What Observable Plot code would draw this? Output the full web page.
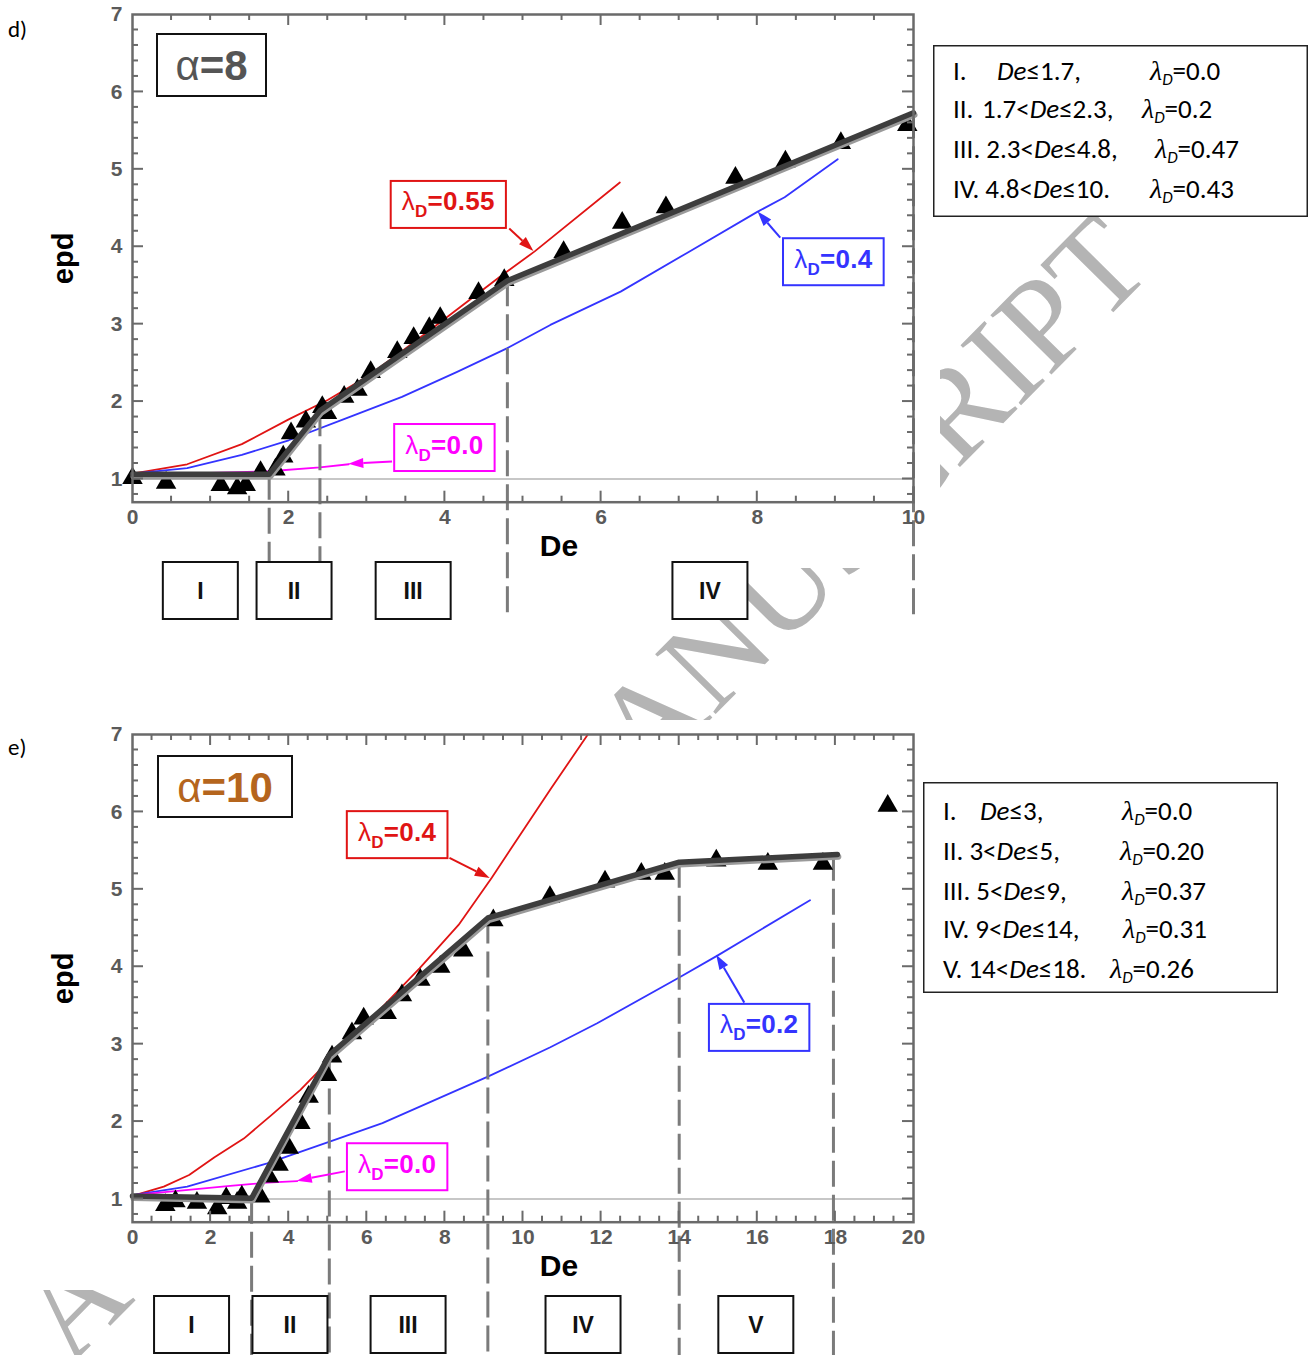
<!DOCTYPE html>
<html lang="en">
<head>
<meta charset="utf-8">
<title>epd versus De, α=8 and α=10</title>
<script src="https://cdn.jsdelivr.net/npm/d3@7"></script>
<script src="https://cdn.jsdelivr.net/npm/@observablehq/plot@0.6"></script>
<style>
  html, body { margin: 0; padding: 0; background: #fff; }
  #page { position: relative; width: 1316px; height: 1355px; overflow: hidden; background: #fff; }
  #page > * { position: absolute; }
</style>
</head>
<body>
<div id="page"></div>
<script>
// ================= DATA: panel d (alpha = 8) =================
const d_expDe   = [0.00, 0.43, 1.13, 1.34, 1.45, 1.64, 1.83, 1.93, 2.03, 2.22, 2.43, 2.49, 2.71, 2.88, 3.05, 3.39, 3.60, 3.80, 3.94, 4.43, 4.76, 5.52, 6.27, 6.83, 7.72, 8.36, 9.07, 9.92];
const d_expEpd  = [1.01, 0.95, 0.92, 0.88, 0.92, 1.09, 1.12, 1.29, 1.59, 1.74, 1.93, 1.85, 2.06, 2.15, 2.38, 2.64, 2.82, 2.95, 3.08, 3.40, 3.57, 3.93, 4.31, 4.51, 4.89, 5.10, 5.34, 5.57];
const d_fitDe   = [0, 1.75, 2.4, 4.8, 10];
const d_fitEpd  = [1.06, 1.06, 1.88, 3.56, 5.73];
const d_redDe   = [0, 0.7, 1.4, 2.0, 2.5, 3.0, 3.45, 4.0, 4.7, 5.15, 6.24];
const d_redEpd  = [1.07, 1.19, 1.45, 1.77, 2.02, 2.32, 2.65, 3.07, 3.61, 3.94, 4.83];
const d_blueDe  = [0, 0.7, 1.4, 2.0, 2.75, 3.45, 4.15, 4.8, 5.35, 6.25, 7.1, 8.0, 8.35, 9.03];
const d_blueEpd = [1.07, 1.14, 1.31, 1.50, 1.79, 2.06, 2.38, 2.69, 2.99, 3.42, 3.92, 4.45, 4.64, 5.13];
const d_magDe   = [0, 1.0, 1.75, 2.4, 2.77];
const d_magEpd  = [1.07, 1.08, 1.10, 1.15, 1.19];
const d_breakDe  = [1.75, 2.4, 4.8, 10];
const d_breakEpd = [1.06, 1.88, 3.56, 5.73];
const d_regions  = ["I", "II", "III", "IV"];
const d_xTicks   = [0, 2, 4, 6, 8, 10];
const d_notes = [
  {value: "0.55", color: "red",  bx: 4.05, by: 4.54, fx: 4.83, fy: 4.23, tx: 5.14, ty: 3.94},
  {value: "0.4",  color: "blue", bx: 8.98, by: 3.80, fx: 8.30, fy: 4.11, tx: 8.01, ty: 4.45},
  {value: "0.0",  color: "mag",  bx: 4.00, by: 1.40, fx: 3.33, fy: 1.22, tx: 2.77, ty: 1.19}
];
const d_legNum  = ["I.", "II.", "III.", "IV."];
const d_legCond = ["De≤1.7,", "1.7<De≤2.3,", "2.3<De≤4.8,", "4.8<De≤10."];
const d_legLam  = ["0.0", "0.2", "0.47", "0.43"];

// ================= DATA: panel e (alpha = 10) =================
const e_expDe   = [0.84, 1.10, 1.65, 2.17, 2.40, 2.68, 2.80, 3.27, 3.49, 3.74, 4.00, 4.30, 4.51, 4.98, 5.11, 5.62, 5.92, 6.51, 6.90, 7.37, 7.88, 8.47, 9.24, 10.69, 12.10, 13.03, 13.63, 14.95, 16.27, 17.68, 19.34];
const e_expEpd  = [0.92, 0.97, 0.95, 0.88, 1.01, 0.95, 1.03, 1.03, 1.29, 1.44, 1.66, 1.98, 2.32, 2.60, 2.84, 3.14, 3.33, 3.40, 3.63, 3.83, 4.00, 4.21, 4.60, 4.90, 5.10, 5.20, 5.20, 5.37, 5.33, 5.33, 6.08];
const e_fitDe   = [0, 3.05, 5.04, 9.1, 14, 18.05];
const e_fitEpd  = [1.04, 1.01, 2.86, 4.63, 5.35, 5.45];
const e_redDe   = [0, 0.8, 1.45, 2.1, 2.85, 3.55, 4.3, 5.0, 6.0, 7.35, 8.35, 9.2, 10.7, 11.66];
const e_redEpd  = [1.04, 1.16, 1.31, 1.54, 1.78, 2.08, 2.41, 2.77, 3.27, 3.98, 4.54, 5.15, 6.29, 7.0];
const e_blueDe  = [0, 1.4, 3.45, 5.05, 6.4, 9.1, 10.7, 11.9, 14.0, 15.0, 17.35];
const e_blueEpd = [1.05, 1.16, 1.46, 1.74, 1.98, 2.58, 2.96, 3.27, 3.86, 4.15, 4.86];
const e_magDe   = [0, 1.5, 2.5, 3.45, 4.22];
const e_magEpd  = [1.05, 1.12, 1.17, 1.21, 1.23];
const e_breakDe  = [3.05, 5.04, 9.1, 14, 17.95];
const e_breakEpd = [1.01, 2.86, 4.63, 5.35, 5.44];
const e_regions  = ["I", "II", "III", "IV", "V"];
const e_xTicks   = [0, 2, 4, 6, 8, 10, 12, 14, 16, 18, 20];
const e_notes = [
  {value: "0.4", color: "red",  bx: 6.79,  by: 5.70, fx: 8.13,  fy: 5.40, tx: 9.16,  ty: 5.14},
  {value: "0.2", color: "blue", bx: 16.06, by: 3.21, fx: 15.68, fy: 3.53, tx: 14.96, ty: 4.15},
  {value: "0.0", color: "mag",  bx: 6.79,  by: 1.41, fx: 5.45,  fy: 1.35, tx: 4.22,  ty: 1.23}
];
const e_legNum  = ["I.", "II.", "III.", "IV.", "V."];
const e_legCond = ["De≤3,", "3<De≤5,", "5<De≤9,", "9<De≤14,", "14<De≤18."];
const e_legLam  = ["0.0", "0.20", "0.37", "0.31", "0.26"];

const yTicks = [1, 2, 3, 4, 5, 6, 7];

// ================= STYLE =================
const COLORS = {red: "#e01414", blue: "#3434ff", mag: "#ff00ff"};
const FONT = "Arial, 'Liberation Sans', sans-serif";
const LEGFONT = "Carlito, Lato, 'Open Sans', sans-serif";
const page = document.getElementById("page");
const pts = (xs, ys) => xs.map((x, i) => ({x, y: ys[i]}));

// watermark (behind everything)
const wm = d3.select(page).append("svg").attr("width", 1316).attr("height", 1355)
  .style("left", "0px").style("top", "0px").style("z-index", 0);
wm.append("text")
  .attr("transform", "translate(1155,270) rotate(-45.3)")
  .attr("text-anchor", "end")
  .attr("font-family", "'Liberation Serif', 'Times New Roman', serif")
  .attr("font-size", 130).attr("fill", "#b4b4b4")
  .text("ACCEPTED MANUSCRIPT");

function drawNote(g, sx, sy, n) {
  const col = COLORS[n.color];
  const gg = g.append("g");
  const cx = sx(n.bx), cy = sy(n.by);
  const rect = gg.append("rect");
  const t = gg.append("text").attr("x", cx).attr("y", cy + 6).attr("text-anchor", "middle")
    .attr("font-family", FONT).attr("font-size", 26).attr("font-weight", "bold")
    .attr("fill", col).attr("letter-spacing", 0.3);
  t.append("tspan").attr("font-weight", "normal").text("λ");
  t.append("tspan").attr("font-size", 17).attr("dy", 7).text("D");
  t.append("tspan").attr("dy", -7).text("=" + n.value);
  const bb = t.node().getBBox();
  const w = bb.width + 22, h = 47;
  rect.attr("x", cx - w / 2).attr("y", cy - h / 2).attr("width", w).attr("height", h)
    .attr("fill", "#fff").attr("stroke", col).attr("stroke-width", 2);
  const x1 = sx(n.fx), y1 = sy(n.fy), x2 = sx(n.tx), y2 = sy(n.ty);
  const a = Math.atan2(y2 - y1, x2 - x1), hl = 15, hw = 5;
  const bx = x2 - hl * Math.cos(a), by = y2 - hl * Math.sin(a);
  gg.append("line").attr("x1", x1).attr("y1", y1).attr("x2", bx).attr("y2", by)
    .attr("stroke", col).attr("stroke-width", 2);
  gg.append("path").attr("fill", col)
    .attr("d", `M${x2},${y2}L${bx - hw * Math.sin(a)},${by + hw * Math.cos(a)}L${bx + hw * Math.sin(a)},${by - hw * Math.cos(a)}Z`);
}

function drawPanel(P) {
  const W = 940, L = 132, R = 913, T = 14, B = 501.7, H = P.height;
  d3.select(page).append("div")
    .style("left", "0px").style("top", P.top + "px")
    .style("width", P.bg[0] + "px").style("height", P.bg[1] + "px")
    .style("background", "#fff").style("z-index", 1);
  const ext = P.extBottom - B;
  const txt = {fontFamily: FONT, fontWeight: "bold"};
  const plot = Plot.plot({
    width: W, height: H,
    marginLeft: L, marginRight: W - R, marginTop: T, marginBottom: H - B,
    x: {domain: P.xDomain, axis: null},
    y: {domain: [0.7, 7], axis: null},
    style: {background: "transparent", overflow: "visible"},
    marks: [
      Plot.ruleY([1], {stroke: "#b5b5b5", strokeWidth: 1.5}),
      Plot.line(pts(P.redDe, P.redEpd), {x: "x", y: "y", stroke: COLORS.red, strokeWidth: 1.8}),
      Plot.line(pts(P.blueDe, P.blueEpd), {x: "x", y: "y", stroke: COLORS.blue, strokeWidth: 1.8}),
      Plot.line(pts(P.magDe, P.magEpd), {x: "x", y: "y", stroke: COLORS.mag, strokeWidth: 1.8}),
      Plot.ruleX(pts(P.breakDe, P.breakEpd), {x: "x", y1: "y", y2: 0.7, insetBottom: -ext,
        stroke: "#7b7b7b", strokeWidth: 3, strokeDasharray: "26,8"}),
      Plot.dot(pts(P.expDe, P.expEpd), {x: "x", y: "y", symbol: "triangle", r: 7.6, fill: "#000", stroke: "none"}),
      Plot.line(pts(P.fitDe, P.fitEpd), {x: "x", y: "y", stroke: "#9a9a9a", strokeWidth: 6, dx: 1, dy: 2.2}),
      Plot.line(pts(P.fitDe, P.fitEpd), {x: "x", y: "y", stroke: "#3d3d3d", strokeWidth: 5.5}),
      Plot.frame({stroke: "#6a6a6a", strokeWidth: 2.5}),
      Plot.text(P.xTicks, {x: d => d, text: d => String(d), frameAnchor: "bottom", lineAnchor: "middle",
        textAnchor: "middle", dy: 15, fontSize: 21, fill: "#5a5a5a", ...txt}),
      Plot.text(yTicks, {y: d => d, text: d => String(d), frameAnchor: "left", textAnchor: "end",
        lineAnchor: "middle", dx: -10, fontSize: 21, fill: "#5a5a5a", ...txt}),
      Plot.text(["De"], {text: d => d, frameAnchor: "bottom", lineAnchor: "middle", textAnchor: "middle",
        dx: 36, dy: 44, fontSize: 30, fill: "#000", ...txt}),
      Plot.text(["epd"], {text: d => d, frameAnchor: "left", lineAnchor: "middle", textAnchor: "middle",
        dx: -69, rotate: -90, fontSize: 29, fill: "#000", ...txt})
    ]
  });
  plot.style.left = "0px";
  plot.style.top = P.top + "px";
  plot.style.zIndex = 2;
  page.appendChild(plot);

  const xs = plot.scale("x"), ys = plot.scale("y");
  const sx = xs && xs.apply ? v => xs.apply(v) : d3.scaleLinear(P.xDomain, [L, R]);
  const sy = ys && ys.apply ? v => ys.apply(v) : d3.scaleLinear([0.7, 7], [B, T]);
  const svg = d3.select(plot);

  // inward ticks on all four sides
  const gt = svg.append("g").attr("stroke", "#6a6a6a").attr("stroke-width", 2);
  const line = (x1, y1, x2, y2) => gt.append("line").attr("x1", x1).attr("y1", y1).attr("x2", x2).attr("y2", y2);
  const [x0, xMax] = P.xDomain;
  const xMaj = d3.range(x0 + 2, xMax - 0.01, 2);
  const xMin = d3.range(x0 + 0.5, xMax - 0.01, 0.5).filter(v => Math.abs(v / 2 - Math.round(v / 2)) > 1e-6);
  const yMaj = d3.range(1, 6.01, 1);
  const yMin = d3.range(0.8, 6.81, 0.2).filter(v => Math.abs(v - Math.round(v)) > 1e-6);
  for (const v of xMaj) { line(sx(v), T, sx(v), T + 11); line(sx(v), B, sx(v), B - 11); }
  for (const v of xMin) { line(sx(v), T, sx(v), T + 6); line(sx(v), B, sx(v), B - 6); }
  for (const v of yMaj) { line(L, sy(v), L + 11, sy(v)); line(R, sy(v), R - 11, sy(v)); }
  for (const v of yMin) { line(L, sy(v), L + 6, sy(v)); line(R, sy(v), R - 6, sy(v)); }

  // region boxes below the axis
  const bounds = [x0, ...P.breakDe];
  const gb = svg.append("g");
  P.regions.forEach((r, i) => {
    const cx = sx((bounds[i] + bounds[i + 1]) / 2);
    gb.append("rect").attr("x", cx - 37.5).attr("y", P.boxTop).attr("width", 75).attr("height", P.boxH)
      .attr("fill", "#fff").attr("stroke", "#111").attr("stroke-width", 2);
    gb.append("text").attr("x", cx).attr("y", P.boxTop + P.boxH / 2 + 8.5).attr("text-anchor", "middle")
      .attr("font-family", FONT).attr("font-weight", "bold").attr("font-size", 23).attr("fill", "#111").text(r);
  });

  // labelled arrows
  const gn = svg.append("g");
  P.notes.forEach(n => drawNote(gn, sx, sy, n));
}

function drawLegend(Lg) {
  const s = d3.select(page).append("svg").attr("width", Lg.w).attr("height", Lg.h)
    .style("left", Lg.left + "px").style("top", Lg.top + "px").style("z-index", 3).style("overflow", "hidden");
  s.append("rect").attr("x", 0.75).attr("y", 0.75).attr("width", Lg.w - 1.5).attr("height", Lg.h - 1.5)
    .attr("fill", "#fff").attr("stroke", "#222").attr("stroke-width", 1.5);
  const g = s.append("g").attr("font-family", LEGFONT).attr("font-size", 27).attr("fill", "#000");
  Lg.num.forEach((num, i) => {
    const y = Lg.base[i];
    const nt = g.append("text").attr("x", Lg.numX).attr("y", y).text(num);
    const numEnd = Lg.numX + nt.node().getComputedTextLength();
    const cx = Math.max(Lg.condX[i], numEnd + 6);
    const c = g.append("text").attr("x", cx).attr("y", y);
    const parts = Lg.cond[i].split("De");
    c.append("tspan").text(parts[0]);
    c.append("tspan").attr("font-style", "italic").text("De");
    c.append("tspan").text(parts[1]);
    const condEnd = cx + c.node().getComputedTextLength();
    const lx = Math.max(Lg.lamX[i], condEnd + 6);
    const l = g.append("text").attr("x", lx).attr("y", y);
    l.append("tspan").attr("font-style", "italic").attr("font-family", "'Liberation Serif', serif").attr("font-size", 28).text("λ");
    l.append("tspan").attr("font-style", "italic").attr("font-size", 17).attr("dy", 5).text("D");
    l.append("tspan").attr("dy", -5).text("=" + Lg.lam[i]);
  });
}

drawPanel({top: 0, height: 620, bg: [940, 568], extBottom: 616, xDomain: [0, 10],
  expDe: d_expDe, expEpd: d_expEpd, fitDe: d_fitDe, fitEpd: d_fitEpd,
  redDe: d_redDe, redEpd: d_redEpd, blueDe: d_blueDe, blueEpd: d_blueEpd, magDe: d_magDe, magEpd: d_magEpd,
  breakDe: d_breakDe, breakEpd: d_breakEpd, regions: d_regions, xTicks: d_xTicks, notes: d_notes,
  boxTop: 562, boxH: 57});

drawPanel({top: 720, height: 635, bg: [922, 570], extBottom: 640, xDomain: [0, 20],
  expDe: e_expDe, expEpd: e_expEpd, fitDe: e_fitDe, fitEpd: e_fitEpd,
  redDe: e_redDe, redEpd: e_redEpd, blueDe: e_blueDe, blueEpd: e_blueEpd, magDe: e_magDe, magEpd: e_magEpd,
  breakDe: e_breakDe, breakEpd: e_breakEpd, regions: e_regions, xTicks: e_xTicks, notes: e_notes,
  boxTop: 576, boxH: 57});

drawLegend({left: 933, top: 45, w: 375, h: 172, numX: 20,
  num: d_legNum, cond: d_legCond, lam: d_legLam,
  condX: [64, 49, 50, 45], lamX: [217, 209, 222, 217], base: [35, 73, 113, 153]});
drawLegend({left: 923, top: 782, w: 355, h: 211, numX: 20,
  num: e_legNum, cond: e_legCond, lam: e_legLam,
  condX: [57, 45, 42, 40, 45], lamX: [199, 197, 199, 200, 187], base: [38, 78, 118, 156, 196]});

// titles and panel letters
const overlay = d3.select(page).append("svg").attr("width", 1316).attr("height", 1355)
  .style("left", "0px").style("top", "0px").style("z-index", 4).style("pointer-events", "none");
function title(x, y, w, h, num, color) {
  overlay.append("rect").attr("x", x).attr("y", y).attr("width", w).attr("height", h)
    .attr("fill", "#fff").attr("stroke", "#111").attr("stroke-width", 2);
  const t = overlay.append("text").attr("x", x + w / 2).attr("y", y + h / 2 + 15).attr("text-anchor", "middle")
    .attr("font-family", FONT).attr("font-size", 42).attr("font-weight", "bold").attr("fill", color);
  t.append("tspan").attr("font-weight", "normal").text("α");
  t.append("tspan").text("=" + num);
}
title(157, 34, 109, 62, "8", "#555555");
title(158, 756, 134, 61, "10", "#b5651d");
overlay.append("text").attr("x", 8).attr("y", 37).attr("font-family", LEGFONT).attr("font-size", 23).text("d)");
overlay.append("text").attr("x", 8).attr("y", 755).attr("font-family", LEGFONT).attr("font-size", 23).text("e)");
</script>
</body>
</html>
